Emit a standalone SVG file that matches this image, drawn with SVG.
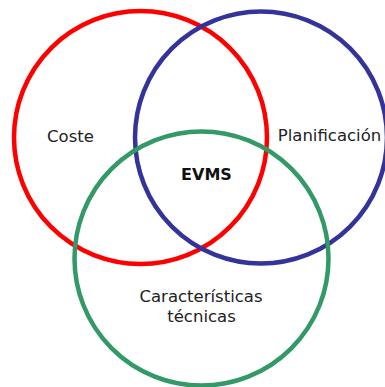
<svg xmlns="http://www.w3.org/2000/svg" width="385" height="387" viewBox="0 0 385 387">
  <style>
    .ring { fill: none; stroke-width: 4.5; }
    .label { font-family: "DejaVu Sans", Verdana, sans-serif; font-size: 16.5px; fill: #222; text-anchor: middle; }
    .core { font-weight: bold; font-size: 16px; fill: #111; }
  </style>
  <rect width="385" height="387" fill="#fff"/>
  <g id="coste">
    <circle class="ring" cx="140.5" cy="137.5" r="126.5" stroke="#ff0000"/>
    <text class="label" x="70.5" y="142">Coste</text>
  </g>
  <g id="planificacion">
    <circle class="ring" cx="261" cy="137.5" r="126" stroke="#333399"/>
    <text class="label" x="329.5" y="141">Planificación</text>
  </g>
  <g id="caracteristicas">
    <circle class="ring" cx="201.5" cy="258.5" r="127" stroke="#339966"/>
    <text class="label" x="201" y="302">Características</text>
    <text class="label" x="201.5" y="322">técnicas</text>
  </g>
  <g id="evms">
    <text class="label core" x="206.5" y="180">EVMS</text>
  </g>
</svg>
